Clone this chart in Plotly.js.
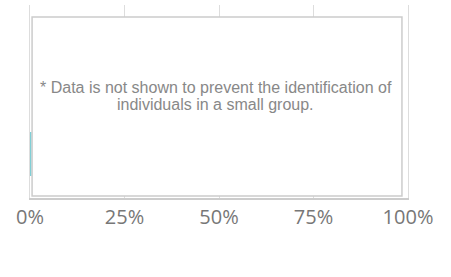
<!DOCTYPE html>
<html>
<head>
<meta charset="utf-8">
<script src="https://cdn.plot.ly/plotly-3.0.1.min.js"></script>
<style>html,body{margin:0;padding:0;background:#fff;}#chart{width:451px;height:277px;}</style>
</head>
<body>
<div id="chart"></div>
<script>
var categories = ["Group"];
var values = [0.004];
var tickValues = [0, 0.25, 0.5, 0.75, 1];
var tickLabels = ["0%", "25%", "50%", "75%", "100%"];
var noteLines = ["* Data is not shown to prevent the identification of", "individuals in a small group."];

var data = [{
  type: "bar",
  orientation: "h",
  y: categories,
  x: values,
  width: 0.8,
  marker: {color: "#7fcfd6"},
  hoverinfo: "skip"
}];

var layout = {
  width: 451,
  height: 277,
  margin: {l: 30, r: 43, t: 5, b: 79},
  paper_bgcolor: "#ffffff",
  plot_bgcolor: "#ffffff",
  showlegend: false,
  xaxis: {
    range: [0, 1],
    tickvals: tickValues,
    ticktext: tickLabels,
    showgrid: true,
    gridcolor: "#dddddd",
    gridwidth: 1,
    zeroline: false,
    showline: true,
    linecolor: "#cccccc",
    linewidth: 2,
    ticks: "",
    tickfont: {family: "Open Sans", size: 20, color: "#777777"},
    fixedrange: true
  },
  yaxis: {
    type: "category",
    range: [-0.8, 2.71],
    showticklabels: false,
    showgrid: false,
    zeroline: false,
    showline: true,
    mirror: true,
    linecolor: "#dddddd",
    linewidth: 1,
    ticks: "",
    fixedrange: true
  },
  shapes: [{
    type: "rect",
    layer: "above",
    xref: "paper", yref: "paper",
    x0: 0.0055, x1: 0.984, y0: 0.01, y1: 0.938,
    line: {color: "#cccccc", width: 1.5},
    fillcolor: "#ffffff"
  }],
  annotations: [{
    xref: "paper", yref: "paper",
    x: 0.492, y: 0.570,
    text: noteLines[0],
    showarrow: false,
    font: {family: "Liberation Sans, Arial, sans-serif", size: 16, color: "#888888"}
  }, {
    xref: "paper", yref: "paper",
    x: 0.492, y: 0.487,
    text: noteLines[1],
    showarrow: false,
    font: {family: "Liberation Sans, Arial, sans-serif", size: 16, color: "#888888"}
  }]
};

Plotly.newPlot("chart", data, layout, {displayModeBar: false, staticPlot: true});
</script>
</body>
</html>
